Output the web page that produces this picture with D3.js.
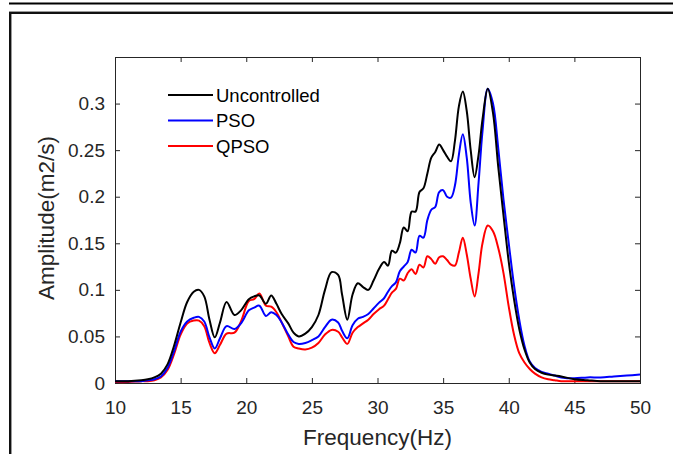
<!DOCTYPE html>
<html>
<head>
<meta charset="utf-8">
<script src="https://cdn.jsdelivr.net/npm/d3@7/dist/d3.min.js"></script>
<style>
  html, body { margin: 0; padding: 0; background: #fff; }
  svg { display: block; }
  text { font-family: "Liberation Sans", Arial, Helvetica, sans-serif; }
</style>
</head>
<body>
<svg id="chart" width="673" height="454"></svg>
<script>
// Frequency grid (Hz) shared by all three spectra
const freq = [10, 11, 12, 12.5, 13, 13.5, 14, 14.5, 15, 15.5, 16, 16.4, 16.8, 17.2, 17.6, 18, 18.5, 19.1, 19.6,
  20.2, 20.6, 21, 21.5, 21.9, 22.3, 22.7, 23.2, 23.6, 24, 24.5, 25, 25.5, 26, 26.5, 27, 27.3, 27.7, 28.1, 28.5,
  28.9, 29.3, 29.7, 30.1, 30.5, 30.8, 31.1, 31.4, 31.7, 32, 32.3, 32.6, 32.9, 33.2, 33.5, 33.8, 34.1, 34.4, 34.7,
  35, 35.3, 35.6, 35.9, 36.2, 36.5, 36.8, 37.1, 37.4, 37.7, 38, 38.4, 38.8, 39.2, 39.6, 40, 40.4, 40.8, 41.2,
  41.6, 42, 42.5, 43, 43.5, 44, 45, 46, 47, 48, 49, 50];

// Amplitude (m2/s) without control
const uncontrolled = [0.002, 0.002, 0.003, 0.004, 0.006, 0.010, 0.020, 0.040, 0.065, 0.087, 0.098, 0.100, 0.093, 0.068, 0.049, 0.065, 0.087, 0.073, 0.078,
  0.090, 0.093, 0.094, 0.085, 0.094, 0.085, 0.074, 0.064, 0.054, 0.050, 0.053, 0.060, 0.073, 0.100, 0.119, 0.116, 0.095, 0.068, 0.095, 0.107,
  0.103, 0.100, 0.110, 0.122, 0.130, 0.126, 0.142, 0.140, 0.150, 0.167, 0.163, 0.184, 0.184, 0.205, 0.209, 0.225, 0.242, 0.248, 0.256,
  0.250, 0.243, 0.238, 0.260, 0.297, 0.313, 0.292, 0.250, 0.221, 0.245, 0.283, 0.316, 0.290, 0.232, 0.180, 0.130, 0.090, 0.058, 0.036,
  0.022, 0.015, 0.011, 0.009, 0.008, 0.007, 0.004, 0.003, 0.002, 0.002, 0.002, 0.002];

// Amplitude with PSO-tuned control
const pso = [0.002, 0.002, 0.002, 0.003, 0.004, 0.007, 0.016, 0.034, 0.055, 0.066, 0.070, 0.071, 0.066, 0.049, 0.037, 0.048, 0.061, 0.058, 0.064,
  0.078, 0.081, 0.083, 0.072, 0.076, 0.073, 0.065, 0.052, 0.044, 0.042, 0.043, 0.046, 0.050, 0.060, 0.068, 0.065, 0.056, 0.048, 0.062, 0.069,
  0.071, 0.074, 0.080, 0.086, 0.091, 0.098, 0.104, 0.108, 0.120, 0.125, 0.130, 0.143, 0.140, 0.158, 0.156, 0.175, 0.186, 0.189, 0.205,
  0.207, 0.200, 0.199, 0.212, 0.245, 0.267, 0.242, 0.194, 0.169, 0.215, 0.270, 0.316, 0.300, 0.252, 0.197, 0.150, 0.105, 0.068, 0.040,
  0.023, 0.016, 0.012, 0.010, 0.008, 0.006, 0.005, 0.006, 0.006, 0.007, 0.008, 0.009];

// Amplitude with QPSO-tuned control
const qpso = [0.001, 0.001, 0.002, 0.002, 0.003, 0.006, 0.014, 0.031, 0.052, 0.064, 0.067, 0.067, 0.061, 0.043, 0.032, 0.041, 0.053, 0.054, 0.066,
  0.088, 0.090, 0.096, 0.083, 0.082, 0.076, 0.065, 0.050, 0.039, 0.037, 0.036, 0.038, 0.043, 0.052, 0.057, 0.055, 0.049, 0.042, 0.054, 0.060,
  0.064, 0.068, 0.074, 0.079, 0.083, 0.090, 0.097, 0.101, 0.112, 0.110, 0.118, 0.122, 0.117, 0.127, 0.124, 0.136, 0.133, 0.128, 0.135,
  0.136, 0.132, 0.127, 0.126, 0.140, 0.156, 0.138, 0.112, 0.093, 0.118, 0.150, 0.169, 0.163, 0.145, 0.118, 0.082, 0.052, 0.032, 0.022,
  0.015, 0.010, 0.006, 0.004, 0.003, 0.002, 0.002, 0.002, 0.002, 0.002, 0.002, 0.002];

const xTicks = [10, 15, 20, 25, 30, 35, 40, 45, 50];
const yTicks = [0, 0.05, 0.1, 0.15, 0.2, 0.25, 0.3];
const seriesNames = ["Uncontrolled", "PSO", "QPSO"];
const seriesColors = ["#000000", "#0000ff", "#ff0000"];

const svg = d3.select("#chart");
const W = 673, H = 454;
const plot = { left: 115, right: 640, top: 57, bottom: 383 };

const x = d3.scaleLinear().domain([10, 50]).range([plot.left, plot.right]);
const y = d3.scaleLinear().domain([0, 0.35]).range([plot.bottom, plot.top]);
const axisColor = "#262626";

// Page frame lines
svg.append("rect").attr("x", 9).attr("y", 2.5).attr("width", W - 9).attr("height", 2).attr("fill", "#000");
svg.append("rect").attr("x", 9).attr("y", 11).attr("width", W - 9).attr("height", 1).attr("fill", "#9a9a9a");
svg.append("rect").attr("x", 9).attr("y", 12).attr("width", W - 9).attr("height", 2).attr("fill", "#111");
svg.append("rect").attr("x", 9).attr("y", 12).attr("width", 2).attr("height", H - 12).attr("fill", "#111");
svg.append("rect").attr("x", 11).attr("y", 14).attr("width", 1).attr("height", H - 14).attr("fill", "#9a9a9a");

// Axes with inward ticks on all four sides
const tickLen = 5;
const gx = svg.append("g").attr("transform", `translate(0,${plot.bottom})`)
  .call(d3.axisBottom(x).tickValues(xTicks).tickSizeInner(-tickLen).tickSizeOuter(0).tickPadding(18)
    .tickFormat(d3.format("d")));
const gxTop = svg.append("g").attr("transform", `translate(0,${plot.top})`)
  .call(d3.axisTop(x).tickValues(xTicks).tickSizeInner(-tickLen).tickSizeOuter(0).tickFormat(""));
const gy = svg.append("g").attr("transform", `translate(${plot.left},0)`)
  .call(d3.axisLeft(y).tickValues(yTicks).tickSizeInner(-tickLen).tickSizeOuter(0).tickPadding(10)
    .tickFormat(d => d === 0 ? "0" : String(+d.toFixed(2))));
const gyRight = svg.append("g").attr("transform", `translate(${plot.right},0)`)
  .call(d3.axisRight(y).tickValues(yTicks).tickSizeInner(-tickLen).tickSizeOuter(0).tickFormat(""));

[gx, gxTop, gy, gyRight].forEach(g => {
  g.select(".domain").remove();
  g.selectAll(".tick line").attr("stroke", axisColor).attr("stroke-width", 1);
  g.selectAll(".tick text").attr("fill", axisColor).attr("font-size", 19)
    .attr("font-family", "'Liberation Sans', Arial, sans-serif");
});

// Box
svg.append("rect")
  .attr("x", plot.left + 0.5).attr("y", plot.top + 0.5)
  .attr("width", plot.right - plot.left).attr("height", plot.bottom - plot.top)
  .attr("fill", "none").attr("stroke", axisColor).attr("stroke-width", 1);

// Curves
const line = d3.line()
  .x((d, i) => x(freq[i]))
  .y(d => y(d))
  .curve(d3.curveCatmullRom.alpha(0.5));

const series = [uncontrolled, pso, qpso];
svg.append("clipPath").attr("id", "plotclip")
  .append("rect").attr("x", plot.left).attr("y", plot.top)
  .attr("width", plot.right - plot.left + 1).attr("height", plot.bottom - plot.top + 1);

const gLines = svg.append("g").attr("clip-path", "url(#plotclip)");
[2, 1, 0].forEach(k => {
  gLines.append("path")
    .datum(series[k])
    .attr("d", line)
    .attr("fill", "none")
    .attr("stroke", seriesColors[k])
    .attr("stroke-width", 2)
    .attr("stroke-linejoin", "round");
});

// Axis titles
svg.append("text")
  .attr("x", (plot.left + plot.right) / 2).attr("y", 445)
  .attr("text-anchor", "middle").attr("fill", axisColor).attr("font-size", 22.5)
  .text("Frequency(Hz)");
svg.append("text")
  .attr("transform", `translate(54,${(plot.top + plot.bottom) / 2 - 2}) rotate(-90)`)
  .attr("text-anchor", "middle").attr("fill", axisColor).attr("font-size", 22.5)
  .text("Amplitude(m2/s)");

// Legend
const legend = svg.append("g");
seriesNames.forEach((name, i) => {
  const ly = 95 + i * 25.5;
  legend.append("line")
    .attr("x1", 168).attr("x2", 213).attr("y1", ly).attr("y2", ly)
    .attr("stroke", seriesColors[i]).attr("stroke-width", 2);
  legend.append("text")
    .attr("x", 216).attr("y", ly).attr("dy", "0.36em")
    .attr("fill", "#000").attr("font-size", 18.5)
    .text(name);
});
</script>
</body>
</html>
